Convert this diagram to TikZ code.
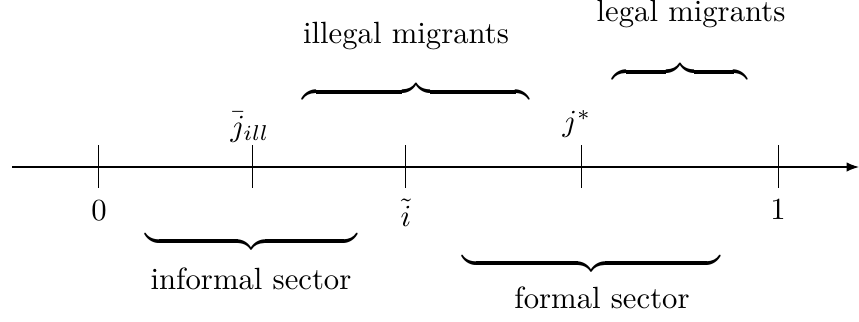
\documentclass[tikz,border=0pt]{standalone}
\usetikzlibrary{arrows.meta}
\begin{document}
\begin{tikzpicture}[x=0.3257pt,y=-0.3257pt,
  lab/.style={inner sep=0pt},
  tick/.style={line width=0.4pt},
  brc/.style={inner sep=0pt}]
\useasboundingbox (0,0) rectangle (859,321);
\coordinate (a0) at (12,167);
\coordinate (a1) at (859,167);
\draw[line width=0.4pt,-{Latex[length=4pt,width=3pt]}] (a0) -- (a1);
% ticks
\foreach \n/\x in {t0/98.7,tj/252.3,ti/405.7,ts/581.7,t1/778.7}{
  \coordinate (\n a) at (\x,145);
  \coordinate (\n b) at (\x,188);
  \draw[tick] (\n a) -- (\n b);
}
% tick labels
\node[lab] (l0) at (99,211) {$0$};
\node[lab] (lj) at (250,127) {$\bar{j}_{ill}$};
\node[lab] (li) at (406,213) {$\tilde{i}$};
\node[lab] (ls) at (577,124) {$j^{*}$};
\node[lab] (l1) at (778,210) {$1$};
% braces
\node[brc,anchor=north] (bill) at (416,80) {$\overbrace{\hspace{74pt}}$};
\node[brc,anchor=north] (bleg) at (680,60) {$\overbrace{\hspace{44pt}}$};
\node[brc,anchor=south] (binf) at (251.5,253) {$\underbrace{\hspace{69pt}}$};
\node[brc,anchor=south] (bfor) at (591.5,275) {$\underbrace{\hspace{84pt}}$};
% labels
\node[lab] (till) at (406,36) {illegal migrants};
\node[lab] (tleg) at (691,14) {legal migrants};
\node[lab] (tinf) at (251,279) {informal sector};
\node[lab] (tfor) at (602,298) {formal sector};
\end{tikzpicture}
\end{document}
